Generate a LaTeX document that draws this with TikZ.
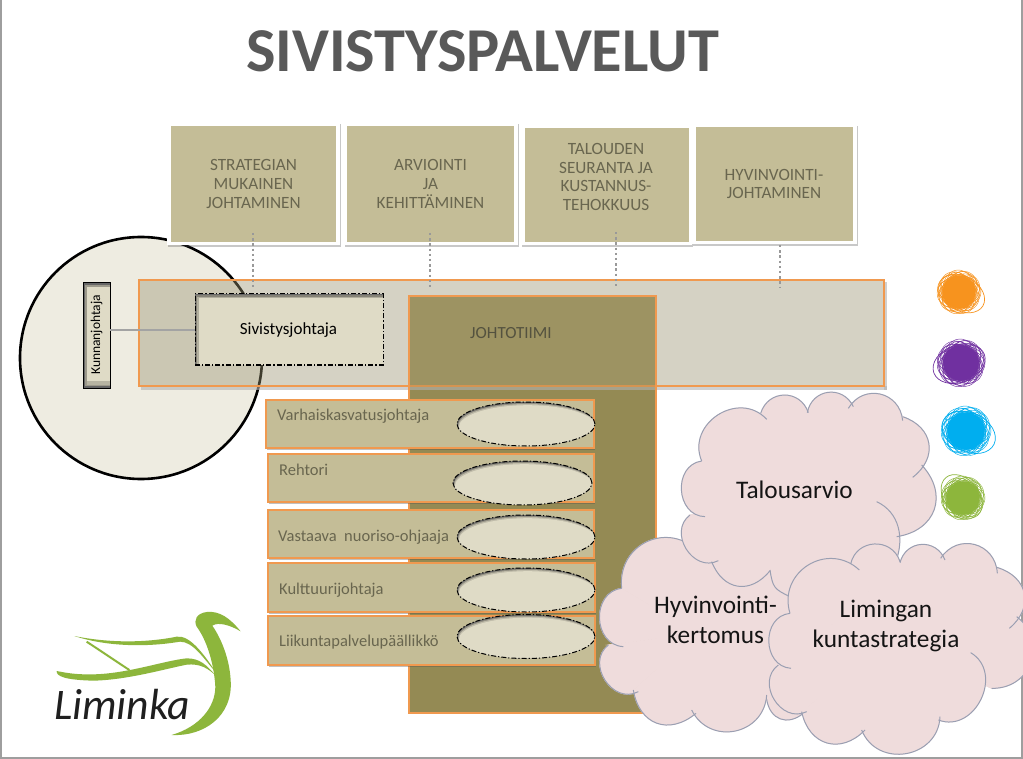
\documentclass[tikz,border=0pt]{standalone}
\usepackage{fontspec}
\setmainfont{Carlito}
\usetikzlibrary{shadows,shapes.geometric}
\definecolor{khaki}{HTML}{C4BD97}
\definecolor{lightk}{HTML}{DFDBC6}
\definecolor{olive}{HTML}{948A54}
\definecolor{orangeb}{HTML}{F0994F}
\definecolor{txtk}{HTML}{69664F}
\definecolor{cloudf}{HTML}{EFDCDC}
\definecolor{cloude}{HTML}{9A9FB2}
\definecolor{swan}{HTML}{8DB63C}
\definecolor{circf}{HTML}{EEECE1}
\definecolor{bandf}{HTML}{999472}
\definecolor{scro}{HTML}{F7931E}
\definecolor{scrp}{HTML}{7030A0}
\definecolor{scrb}{HTML}{00AEEF}
\tikzset{
 x=1pt,y=-1pt,
 framebox/.style={fill=white,draw=none,inner sep=0,outer sep=0,drop shadow={shadow xshift=.8pt,shadow yshift=-1.6pt,opacity=.3,fill=black!70}},
 topbox/.style={fill=khaki,inner sep=0,outer sep=0,align=center,text=txtk,font=\fontsize{17.2}{18.8}\selectfont},
 rowbox/.style={fill=khaki,draw=orangeb,line width=2.8pt,inner sep=0,outer sep=0,drop shadow={shadow xshift=.8pt,shadow yshift=-1.6pt,opacity=.35,fill=black!70}},
 rowtext/.style={anchor=base west,inner sep=0,text=txtk,font=\fontsize{16.5}{18}\selectfont},
 dots/.style={draw=black!40,line width=2.8pt,dash pattern=on 2.4pt off 2.8pt},
 cloudtext/.style={inner sep=0,align=center,text=black!92,font=\fontsize{25.3}{30.5}\selectfont},
 dashframe/.style={draw=black,line width=1pt,dash pattern=on 5pt off 2pt on 1.2pt off 2pt},
}
% cloud: centre x, centre y, then bumps x1/y1/x2/y2/bend
\newcommand{\cloudshape}[3]{%
 \foreach \xa/\ya/\xb/\yb/\bd [remember=\xb as \xp (initially #1),remember=\yb as \yp (initially #2)] in {#3}{%
  \filldraw[fill=cloudf,draw=cloudf,line width=.8pt] (#1,#2) -- (\xp,\yp) -- (\xa,\ya) to[bend left=\bd,looseness=1.35] (\xb,\yb) -- cycle;}%
 \foreach \xa/\ya/\xb/\yb/\bd in {#3}{%
  \draw[cloude,line width=1pt] (\xa,\ya) to[bend left=\bd,looseness=1.35] (\xb,\yb);}%
}
\newcommand{\scribble}[6]{% cx cy r colour tilt offset
 \begin{scope}[shift={(#1,#2)}]
  \fill[#4] (0,0) circle[radius=#3*.74];
  \foreach \a/\d/\s in {0/.5/.46,31/.44/.5,58/.56/.38,95/.46/.48,128/.52/.44,160/.42/.54,190/.56/.4,224/.48/.46,255/.5/.42,290/.44/.52,322/.55/.4}{%
   \draw[#4,line width=.55pt] (\a:#3*\d) circle[radius=#3*\s];
   \draw[#4,line width=.45pt,rotate=\a] (#3*.1,0) ellipse[x radius=#3*.9,y radius=#3*.72];}
  \draw[#4,line width=.7pt,rotate=#5] (#6,0) ellipse[x radius=#3*1.12,y radius=#3*.78];
 \end{scope}}
\newcommand{\insetellipse}[5]{% name cx cy rx ry
 \fill[black!60] (#2,#3) ellipse[x radius=#4,y radius=#5];
 \begin{scope}
  \clip (#2,#3) ellipse[x radius=#4,y radius=#5];
  \fill[black!35!lightk] (#2+.6,#3+1) ellipse[x radius=#4,y radius=#5];
  \fill[black!14!lightk] (#2+1.2,#3+2) ellipse[x radius=#4,y radius=#5];
  \fill[lightk] (#2+1.8,#3+3.2) ellipse[x radius=#4,y radius=#5];
 \end{scope}
 \node[ellipse,dashframe,inner sep=0,outer sep=0,minimum width=2*#4 pt,minimum height=2*#5 pt] (#1) at (#2,#3) {};
}
\begin{document}
\begin{tikzpicture}
\useasboundingbox (0,0) rectangle (1023,759);
\fill[white] (0,0) rectangle (1023,759);
\fill[black!38] (0,0) rectangle (2,759);
\fill[black!38] (1021,0) rectangle (1023,759);
\fill[black!38] (0,757) rectangle (1023,759);

\node[inner sep=0,text=black!65,font=\fontsize{62.4}{62}\bfseries\selectfont] (title) at (482.5,51) {SIVISTYSPALVELUT};

% circle
\node[circle,fill=circf,draw=black,line width=2.6pt,inner sep=0,minimum size=242pt] (circ) at (141,358) {};

% column
\node[fill=olive,draw=none,inner sep=0,outer sep=0,minimum width=247pt,minimum height=417pt] (col) at (532.5,504.5) {};
% band
\fill[black!30,opacity=.6] (141,386) rectangle (886.5,389.5);
\fill[black!30,opacity=.6] (884,282) rectangle (886.5,389.5);
\node[fill=bandf,fill opacity=.41,draw=orangeb,line width=2.7pt,inner sep=0,outer sep=0,minimum width=745pt,minimum height=106pt] (band) at (511.5,333) {};
\fill[olive!92!white] (409,296) rectangle (656,386);
\draw[orangeb!70!olive,line width=1.6pt] (409,386) -- (656,386);
\draw[orangeb,line width=2.8pt] (409,386) |- (656,296) -- (656,713) -| (409,386);
\node[inner sep=0,text=txtk!80!black,font=\fontsize{17}{18}\selectfont] (jt) at (511,333) {JOHTOTIIMI};

% top boxes
\node[framebox,minimum width=173pt,minimum height=123pt] (f1) at (253.5,184) {};
\node[framebox,minimum width=174pt,minimum height=123pt] (f2) at (431,184) {};
\node[framebox,minimum width=171pt,minimum height=121pt] (f3) at (606.5,185) {};
\node[framebox,minimum width=165pt,minimum height=120pt] (f4) at (774.5,184) {};
\node[topbox,minimum width=165pt,minimum height=116pt] (b1) at (253.5,184) {STRATEGIAN\\MUKAINEN\\JOHTAMINEN};
\node[topbox,minimum width=167pt,minimum height=116pt] (b2) at (430.5,184) {ARVIOINTI\\JA\\KEHITTÄMINEN};
\node[topbox,minimum width=164pt,minimum height=114pt] (b3) at (607,185) {};
\node[topbox,fill=none] (b3t) at (606,177) {TALOUDEN\\SEURANTA JA\\KUSTANNUS-\\TEHOKKUUS};
\node[topbox,minimum width=157pt,minimum height=114pt] (b4) at (774,184) {HYVINVOINTI-\\JOHTAMINEN};

% dotted connectors
\coordinate (d1a) at (253,233); \coordinate (d1b) at (253,288);
\coordinate (d2a) at (430,233); \coordinate (d2b) at (430,288);
\coordinate (d3a) at (616,232); \coordinate (d3b) at (616,288);
\coordinate (d4a) at (780,245); \coordinate (d4b) at (780,288);
\draw[dots] (d1a) -- (d1b);
\draw[dots] (d2a) -- (d2b);
\draw[dots] (d3a) -- (d3b);
\draw[dots] (d4a) -- (d4b);

% Kunnanjohtaja
\fill[black!60] (83,283) rectangle (110,388);
\fill[black!30!lightk] (85,285) rectangle (110,386);
\fill[lightk] (86.5,287) rectangle (110,383);
\fill[black!18!lightk] (86.5,381) rectangle (110,385);
\node[draw=black,line width=1pt,inner sep=0,outer sep=0,minimum width=27pt,minimum height=105pt] (kj) at (96.5,335.5) {};
\node[rotate=90,inner sep=0,text=black,font=\fontsize{13.5}{15}\selectfont] (kjt) at (96.5,335) {Kunnanjohtaja};

% Sivistysjohtaja
\fill[black!60] (195,294) rectangle (383,365);
\fill[black!40!lightk] (196.2,295.2) rectangle (383,365);
\fill[black!20!lightk] (197.4,296.6) rectangle (383,365);
\fill[lightk] (198.6,298) rectangle (383,365);
\node[dashframe,inner sep=0,outer sep=0,minimum width=188pt,minimum height=71pt] (sj) at (289,329.5) {};
\node[inner sep=0,text=black,font=\fontsize{17}{18}\selectfont] (sjt) at (288.5,330.5) {Sivistysjohtaja};
\draw[black!36,line width=2.4pt] (kj.east|-0,330) -- (sj.west|-0,330);

% rows
\node[rowbox,minimum width=328pt,minimum height=48pt] (r1) at (430,424) {};
\node[rowbox,minimum width=326pt,minimum height=48pt] (r2) at (431,478) {};
\node[rowbox,minimum width=326pt,minimum height=48pt] (r3) at (431,534) {};
\node[rowbox,minimum width=327pt,minimum height=49pt] (r4) at (431.5,587.5) {};
\node[rowbox,minimum width=327pt,minimum height=49pt] (r5) at (431.5,640.5) {};
\node[rowtext] (t1) at (277,420.5) {Varhaiskasvatusjohtaja};
\node[rowtext] (t2) at (279,475) {Rehtori};
\node[rowtext] (t3) at (278,541) {Vastaava\ \ nuoriso-ohjaaja};
\node[rowtext] (t4) at (279,594) {Kulttuurijohtaja};
\node[rowtext] (t5) at (279,646.5) {Liikuntapalvelupäällikkö};
\insetellipse{e1}{526}{424}{69}{22}
\insetellipse{e2}{522.5}{483}{69.5}{22}
\insetellipse{e3}{526}{537}{69}{22}
\insetellipse{e4}{526}{590}{69}{22}
\insetellipse{e5}{526}{636.5}{69}{22}

% scribbles
\scribble{959}{292}{22}{scro}{-30}{3}
\scribble{961}{363}{24}{scrp}{20}{-2}
\scribble{966}{431}{25}{scrb}{-25}{3}
\scribble{963}{498}{22}{swan}{-50}{-2}

% clouds
\begin{scope}[shift={(590,380)},x=.33333pt,y=-.33333pt]
\cloudshape{320}{760}{95/625/330/520/72, 300/520/600/650/50, 600/600/640/1000/50, 640/1000/530/958/60,
 530/945/305/990/75, 318/1000/130/930/60, 145/935/55/795/85, 100/800/95/625/85}
\cloudshape{640}{330}{335/243/530/118/80, 512/100/655/98/72, 652/98/790/80/72, 775/85/938/122/72,
 938/110/968/292/62, 995/255/920/470/62, 860/365/760/640/85, 600/650/540/570/28,
 540/572/365/545/60, 385/542/300/405/85, 345/410/335/243/85}
\cloudshape{900}{780}{600/700/808/570/75, 782/552/930/545/75, 930/548/1065/540/72, 1052/535/1222/580/72,
 1220/562/1258/745/62, 1280/710/1205/925/72, 1142/818/1045/1020/85, 1050/1010/815/1050/78,
 825/1050/635/995/62, 650/995/565/855/85, 603/865/600/700/85}
\end{scope}
\node[cloudtext] (c1) at (794.5,490) {Talousarvio};
\node[cloudtext] (c2) at (715.5,620) {Hyvinvointi-\\kertomus};
\node[cloudtext] (c3) at (886,626) {Limingan\\kuntastrategia};

% logo
\begin{scope}[shift={(30,590)},x=.33333pt,y=-.33333pt]
\fill[swan] (632,124) .. controls (600,85) and (570,62) .. (530,66) .. controls (500,70) and (490,90) .. (500,110)
 .. controls (530,150) and (552,220) .. (556,290) .. controls (556,350) and (510,410) .. (425,435)
 .. controls (520,440) and (610,380) .. (602,270) .. controls (598,200) and (570,140) .. (547,107)
 .. controls (565,95) and (600,105) .. (632,124) -- cycle;
\fill[swan] (80,243) .. controls (78,260) and (110,270) .. (190,272) .. controls (290,270) and (400,238) .. (470,224)
 .. controls (510,220) and (535,235) .. (558,258) .. controls (530,225) and (510,205) .. (470,205)
 .. controls (400,212) and (280,256) .. (170,253) .. controls (130,253) and (100,247) .. (80,243) -- cycle;
\fill[swan] (133,138) .. controls (230,158) and (340,160) .. (440,140) .. controls (480,135) and (520,190) .. (560,250)
 .. controls (520,205) and (490,155) .. (450,155) .. controls (350,172) and (230,170) .. (133,138) -- cycle;
\draw[swan,line width=2pt] (170,155) -- (298,240);
\node[inner sep=0,anchor=base west,text=black!88,font=\fontsize{43.6}{41}\itshape\selectfont] (logo) at (72,388) {Liminka};
\end{scope}
\end{tikzpicture}
\end{document}
